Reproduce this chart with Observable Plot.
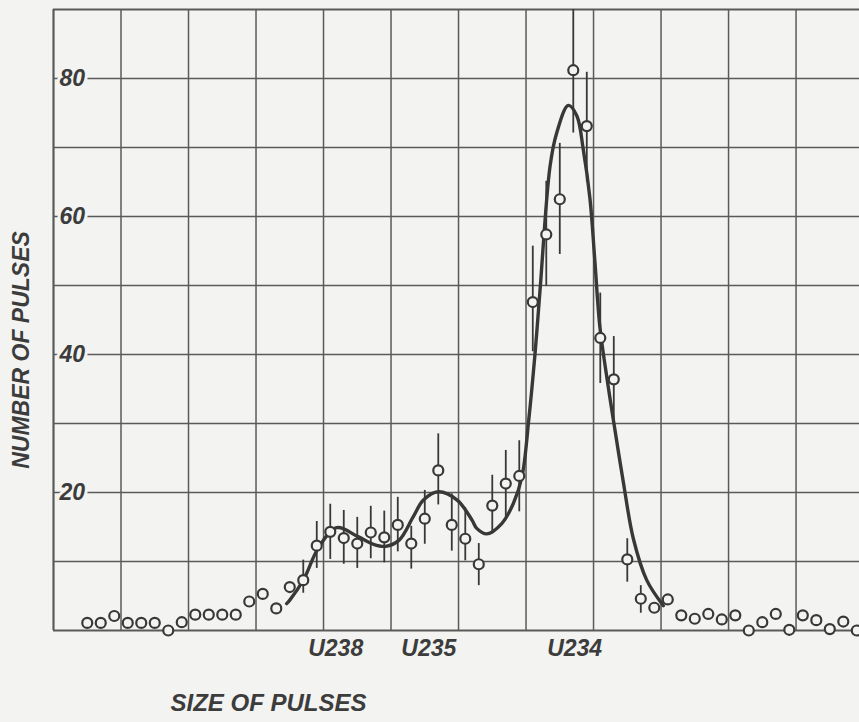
<!DOCTYPE html>
<html>
<head>
<meta charset="utf-8">
<script src="https://cdn.jsdelivr.net/npm/d3@7"></script>
<script src="https://cdn.jsdelivr.net/npm/@observablehq/plot@0.6"></script>
<style>
  html, body { margin: 0; padding: 0; background: #f3f3f1; }
  #chart { width: 859px; height: 722px; }
</style>
</head>
<body>
<div id="chart"></div>
<script>
// Bin centres (pulse-size channels) and number of pulses
const channels = [2.5,3.5,4.5,5.5,6.5,7.5,8.5,9.5,10.5,11.5,12.5,13.5,14.5,15.5,16.5,17.5,18.5,19.5,20.5,21.5,22.5,23.5,24.5,25.5,26.5,27.5,28.5,29.5,30.5,31.5,32.5,33.5,34.5,35.5,36.5,37.5,38.5,39.5,40.5,41.5,42.5,43.5,44.5,45.5,46.5,47.5,48.5,49.5,50.5,51.5,52.5,53.5,54.5,55.5,56.5,57.5,58.5,59.5];
const counts = [1.1,1.1,2.1,1.1,1.1,1.1,0,1.2,2.3,2.3,2.3,2.3,4.2,5.3,3.2,6.3,7.3,12.3,14.3,13.4,12.6,14.2,13.5,15.3,12.6,16.2,23.2,15.3,13.3,9.6,18.1,21.3,22.4,47.6,57.4,62.5,81.2,73.1,42.4,36.4,10.3,4.6,3.3,4.5,2.2,1.7,2.4,1.6,2.2,0,1.2,2.4,0.1,2.2,1.5,0.2,1.3,0];

// Error bars
const errChannels = [18.5,19.5,20.5,21.5,22.5,23.5,24.5,25.5,26.5,27.5,28.5,29.5,30.5,31.5,32.5,33.5,34.5,35.5,36.5,37.5,38.5,39.5,40.5,41.5,42.5,43.5];
const errHigh = [10.2,15.8,18.3,17.4,16.4,18.0,17.3,19.3,15.1,20.3,28.5,19.8,17.8,12.6,22.5,26.1,27.5,55.7,65.1,70.6,90,80.9,48.9,42.6,13.3,6.5];
const errLow  = [5.4,9.0,10.3,9.6,9.0,10.4,9.8,11.4,8.9,12.5,18.2,11.5,10.1,6.5,14.0,16.5,17.2,40.4,49.9,54.5,72.1,65.0,35.8,30.5,7.0,2.5];

// Fitted curve
const curveX = [17.27,17.5,18.56,19.6,20.98,22.55,23.7,24.6,25.6,26.65,27.4,28.5,29.9,31.0,31.35,32.1,33.2,34.06,34.7,35.2,35.67,36.04,36.78,37.27,38.13,38.76,39.24,39.74,40.1,40.47,41.0,41.47,42.2,42.95,43.94,45.17];
const curveY = [3.9,4.4,7.5,11.9,14.9,13.6,12.5,12.2,13.1,16.5,18.9,20.1,18.9,16.0,14.8,14.0,15.5,18.4,22.3,30.5,40.2,49.4,67.3,72.1,76.1,74.6,69.7,62.5,53.5,44.0,36.5,30.5,21.6,13.3,7.3,3.6];

// Axis labels
const isotopeLabels = ["U238", "U235", "U234"];
const isotopePos = [20.9, 27.8, 38.6];
const yTickLabels = [20, 40, 60, 80];
const yGrid = [10, 20, 30, 40, 50, 60, 70, 80];
const xGrid = [5, 10, 15, 20, 25, 30, 35, 40, 45, 50, 55];
const yTitle = "NUMBER OF PULSES";
const xTitle = "SIZE OF PULSES";

const points = channels.map((c, i) => ({x: c, y: counts[i]}));
const errs = errChannels.map((c, i) => ({x: c, lo: errLow[i], hi: errHigh[i]}));
const curve = curveX.map((c, i) => ({x: c, y: curveY[i]}));
const isotopes = isotopeLabels.map((l, i) => ({x: isotopePos[i], label: l}));

const bg = "#f3f3f1";
const ink = "#383838";
const grid = "#5a5a5a";
const textInk = "#3c3c3c";

const chart = Plot.plot({
  width: 859,
  height: 722,
  marginLeft: 53,
  marginRight: 0,
  marginTop: 9,
  marginBottom: 92,
  x: {domain: [0, 59.7], axis: null},
  y: {domain: [0, 90], axis: null},
  style: {
    background: bg,
    fontFamily: "'Liberation Sans', Arial, Helvetica, sans-serif",
    fontWeight: "bold",
    fontStyle: "italic",
    overflow: "visible"
  },
  marks: [
    Plot.ruleX(xGrid, {stroke: grid, strokeWidth: 1.5}),
    Plot.ruleY(yGrid, {stroke: grid, strokeWidth: 1.5}),
    Plot.ruleX([0], {stroke: grid, strokeWidth: 2.2}),
    Plot.ruleY([0, 90], {stroke: grid, strokeWidth: 2.2}),
    Plot.text(yTickLabels, {
      y: d => d, frameAnchor: "left", text: d => String(d),
      textAnchor: "start", dx: 6, fontSize: 23, fill: textInk,
      stroke: bg, strokeWidth: 6, paintOrder: "stroke", strokeLinejoin: "round"
    }),
    Plot.line(curve, {x: "x", y: "y", curve: "catmull-rom", stroke: ink, strokeWidth: 3.4}),
    Plot.ruleX(errs, {x: "x", y1: "lo", y2: "hi", stroke: ink, strokeWidth: 1.8}),
    Plot.dot(points, {x: "x", y: "y", r: 5, stroke: ink, strokeWidth: 2.2, fill: bg}),
    Plot.text(isotopes, {
      x: "x", text: "label", frameAnchor: "bottom", lineAnchor: "top",
      dy: 9, fontSize: 23, fill: textInk
    }),
    Plot.text([yTitle], {
      frameAnchor: "left", textAnchor: "middle", rotate: -90, dx: -32, dy: 30,
      fontSize: 23, fill: textInk
    }),
    Plot.text([xTitle], {
      frameAnchor: "bottom-left", textAnchor: "start", dx: 117, dy: 80,
      fontSize: 24, fill: textInk
    })
  ]
});

document.getElementById("chart").appendChild(chart);
</script>
</body>
</html>
